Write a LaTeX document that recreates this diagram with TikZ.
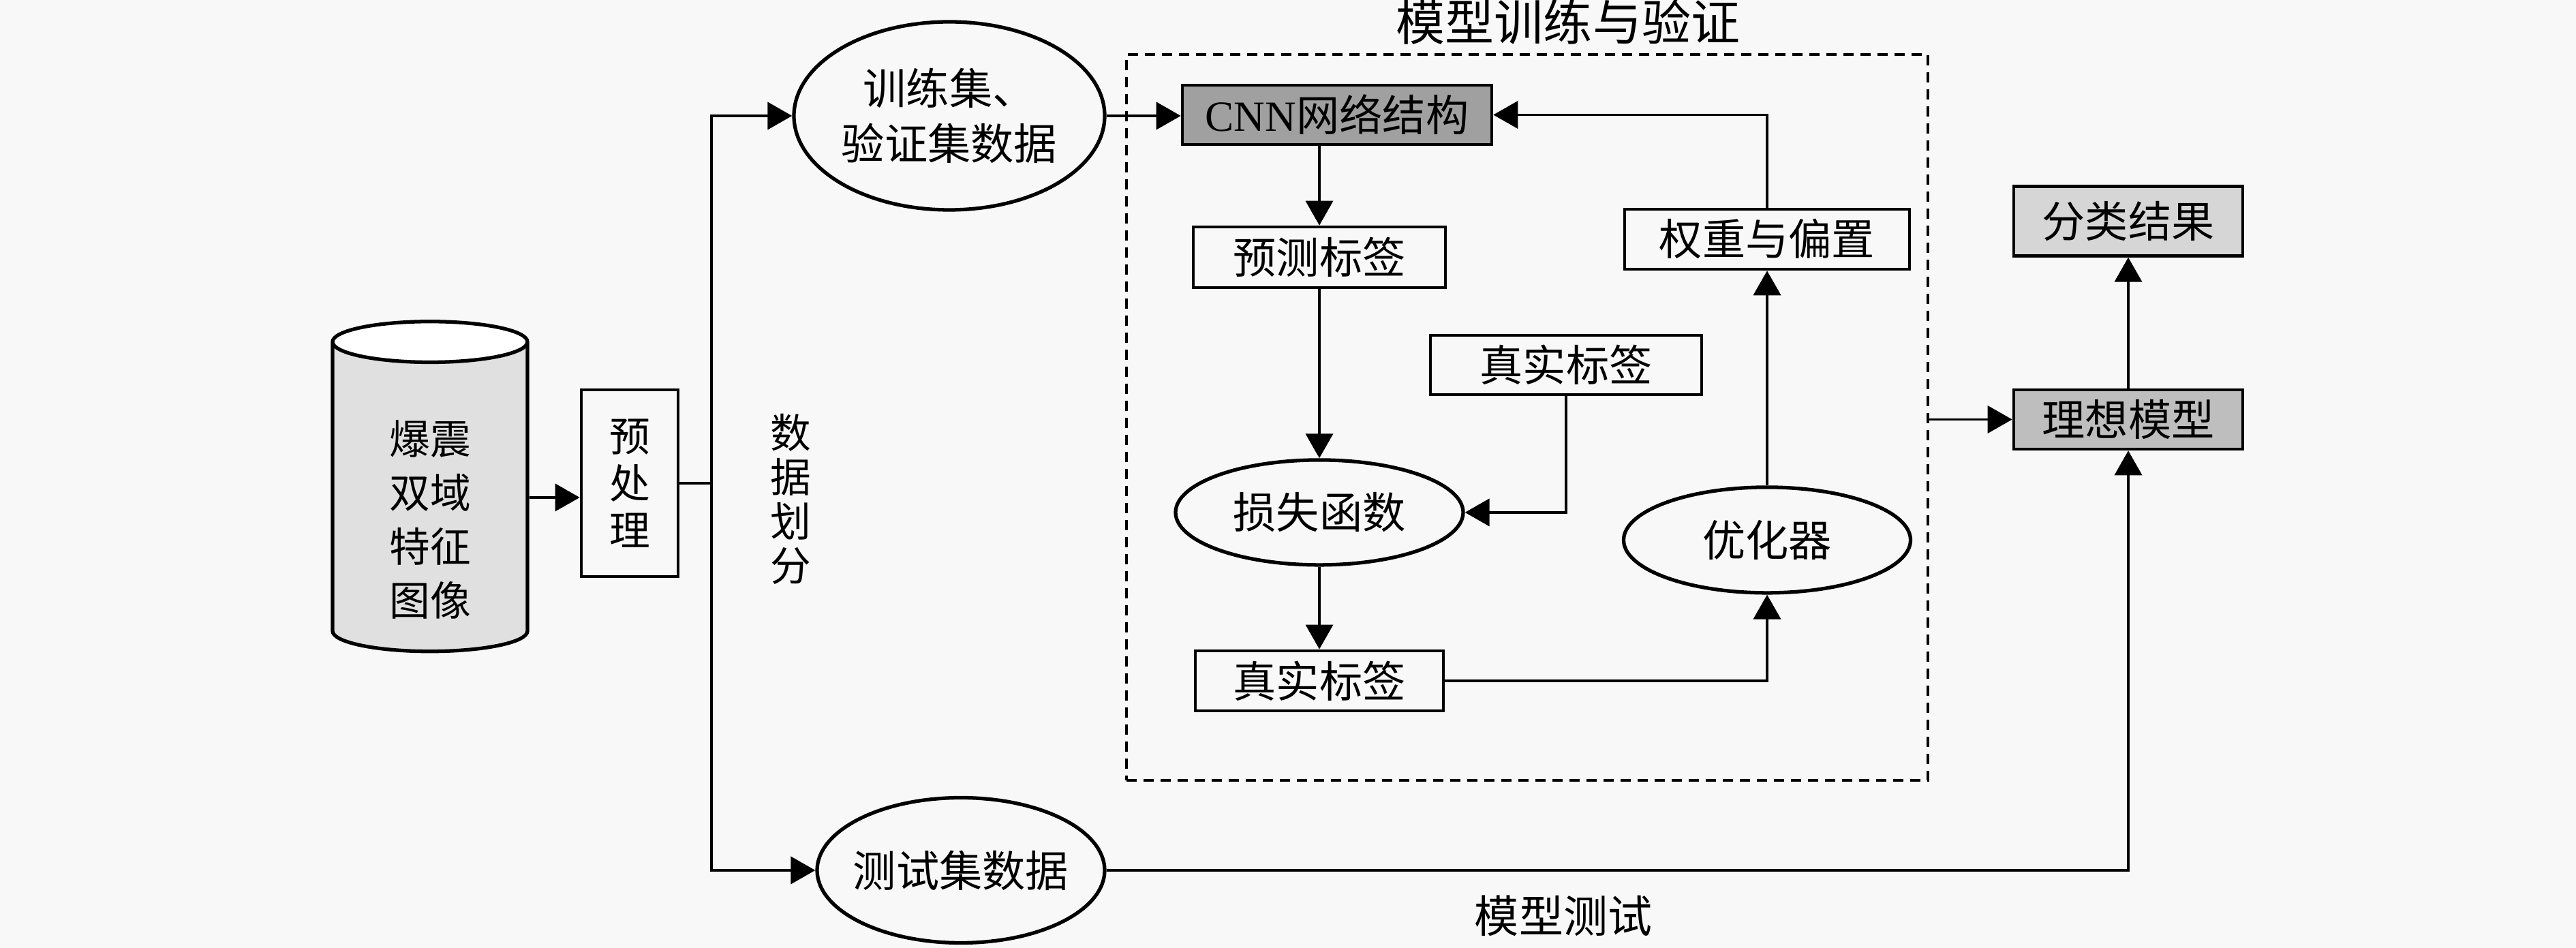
\documentclass[tikz,border=0pt]{standalone}
\usepackage{fontspec}
\setmainfont{Liberation Serif}
\newfontfamily\cjk{Noto Sans CJK SC}
\usetikzlibrary{positioning}
\usetikzlibrary{arrows.meta}
\usetikzlibrary{shapes.geometric}

\definecolor{paper}{RGB}{248,248,248}
\definecolor{cnngray}{RGB}{160,160,160}
\definecolor{idealgray}{RGB}{190,190,190}
\definecolor{resgray}{RGB}{214,214,214}
\definecolor{cylgray}{RGB}{224,224,224}

\begin{document}
\begin{tikzpicture}
	\tikzstyle{block} = [draw, line width=1.3pt, inner sep=0pt, font=\cjk\fontsize{18}{22}\selectfont]
	\tikzstyle{oval} = [draw, ellipse, line width=1.5pt, inner xsep=-0.4cm, inner ysep=0pt, font=\cjk\fontsize{18}{23}\selectfont]
	\tikzstyle{line} = [draw, line width=1.1pt, -{Triangle[length=0.36cm, width=0.4cm]}]
	\tikzstyle{tag} = [inner sep=0pt, align=center, font=\cjk\fontsize{18}{18.5}\selectfont]

	\fill [paper] (0,0) rectangle (37.8,13.91);
	\useasboundingbox (0,0) rectangle (37.8,13.91);

	\node [draw, cylinder, shape border rotate=90, aspect=0.5, line width=1.5pt,
		cylinder uses custom fill, cylinder body fill=cylgray, cylinder end fill=white,
		minimum width=2.86cm, minimum height=4.84cm, inner sep=0pt, align=center,
		font=\cjk\fontsize{17}{22.5}\selectfont] (img) at (6.31,6.61) {\rule{0pt}{1.15cm}爆震\\双域\\特征\\图像};
	\node [block, minimum width=1.42cm, minimum height=2.74cm, align=center,
		font=\cjk\fontsize{17}{19.6}\selectfont] (pre) at (9.24,6.82) {预\\处\\理};
	\coordinate [right=0.47cm of pre.east] (fork);
	\node [tag, font=\cjk\fontsize{17}{18.5}\selectfont] (split) at (11.60,6.59) {数\\据\\划\\分};

	\node [oval, minimum width=4.56cm, minimum height=2.76cm, align=center] (train) at (13.93,12.21) {训练集、\\验证集数据};
	\node [oval, minimum width=4.22cm, minimum height=2.13cm] (test) at (14.10,1.14) {测试集数据};

	% model training and validation
	\node [draw, dash pattern=on 0.15cm off 0.1cm, line width=1.1pt, minimum width=11.76cm, minimum height=10.65cm] (frame) at (22.41,7.785) {};
	\node [tag, font=\cjk\fontsize{20.5}{20.5}\selectfont, above=0.12cm of frame.north, xshift=0.6cm] (title) {模型训练与验证};

	\node [block, fill=cnngray, minimum width=4.54cm, minimum height=0.87cm] (cnn) at (19.62,12.225) {{\rmfamily CNN}网络结构};
	\node [block, minimum width=3.70cm, minimum height=0.89cm] (pred) at (19.36,10.135) {预测标签};
	\node [oval, minimum width=4.22cm, minimum height=1.54cm, below=2.48cm of pred] (loss) {损失函数};
	\node [block, minimum width=3.64cm, minimum height=0.88cm, below=1.21cm of loss] (true2) {真实标签};
	\node [block, minimum width=3.98cm, minimum height=0.87cm] (true1) at (22.98,8.555) {真实标签};
	\node [block, minimum width=4.18cm, minimum height=0.88cm] (weight) at (25.93,10.40) {权重与偏置};
	\node [oval, minimum width=4.21cm, minimum height=1.55cm, below=3.15cm of weight] (opt) {优化器};

	% output side
	\node [block, fill=idealgray, minimum width=3.36cm, minimum height=0.87cm] (ideal) at (31.23,7.755) {理想模型};
	\node [block, fill=resgray, minimum width=3.36cm, minimum height=1.02cm, above=1.92cm of ideal] (result) {分类结果};
	\node [tag, font=\cjk\fontsize{18.5}{18.5}\selectfont] (testtxt) at (22.94,0.47) {模型测试};

	\path [line] (img.east) -- (img.east -| pre.west);
	\draw [line width=1.1pt] (pre.east) -- (fork);
	\path [line] (fork) |- (train.west);
	\path [line] (fork) |- (test.west);
	\path [line] (train.east) -- (train.east -| cnn.west);
	\path [line] (cnn.south -| pred.north) -- (pred.north);
	\path [line] (weight.north) |- (cnn.east);
	\path [line] (pred) -- (loss);
	\path [line] (true1.south) |- (loss.east);
	\path [line] (loss) -- (true2);
	\path [line] (true2.east) -| (opt.south);
	\path [line] (opt) -- (weight);
	\path [line] (frame.east |- ideal.west) -- (ideal.west);
	\path [line] (ideal) -- (result);
	\path [line] (test.east) -| (ideal.south);
\end{tikzpicture}
\end{document}
